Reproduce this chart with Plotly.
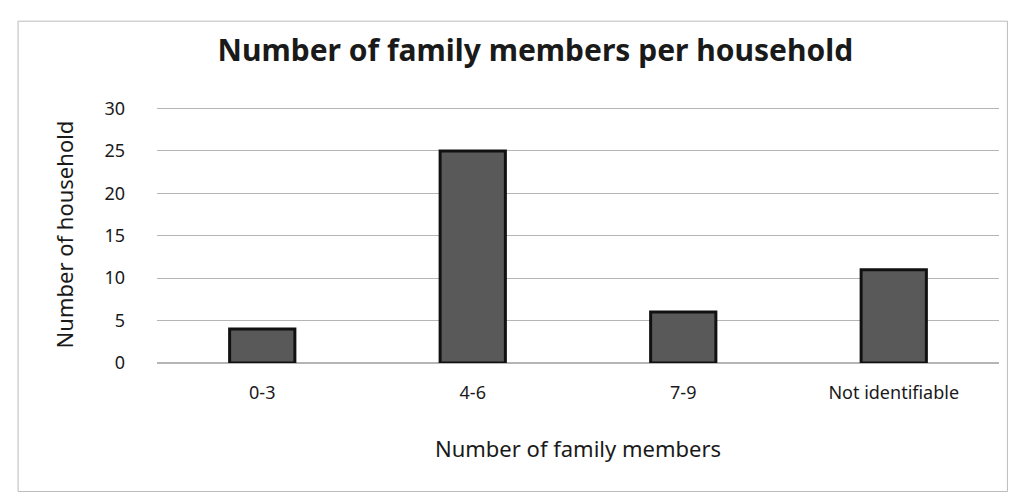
import plotly.graph_objects as go

categories = ["0-3", "4-6", "7-9", "Not identifiable"]
households = [4, 25, 6, 11]
y_ticks = [0, 5, 10, 15, 20, 25, 30]

fig = go.Figure(go.Bar(
    x=categories, y=households,
    marker=dict(color="#595959", line=dict(color="#111111", width=3)),
))

fig.update_layout(
    width=1024, height=500,
    paper_bgcolor="white", plot_bgcolor="white",
    margin=dict(l=149, r=33, t=98, b=145, autoexpand=False),
    bargap=0.69,
    font=dict(family="Noto Sans, Open Sans, sans-serif", color="#1a1a1a", size=15),
    title=dict(text="<b>Number of family members per household</b>", x=0.515, xanchor="center",
               xref="container", yref="container", y=0.915, yanchor="middle",
               font=dict(size=30, color="#1a1a1a")),
    showlegend=False,
    shapes=[dict(type="rect", xref="paper", yref="paper", x0=-0.165, x1=1.01, y0=-0.5, y1=1.33,
                 line=dict(color="#bbbbbb", width=1))],
)
fig.update_xaxes(title=dict(text="Number of family members", font=dict(size=22), standoff=38),
                 showline=False, ticks="", tickfont=dict(size=18), ticklabelstandoff=17,
                 automargin=False)
fig.update_yaxes(title=dict(text="Number of household", font=dict(size=22), standoff=24),
                 range=[0, 30.3], tickvals=y_ticks, showgrid=True, gridcolor="#b5b5b5",
                 gridwidth=1, zeroline=True, zerolinecolor="#b5b5b5", tickfont=dict(size=18),
                 ticklabelstandoff=31, automargin=False)

fig.write_html("out.html")
